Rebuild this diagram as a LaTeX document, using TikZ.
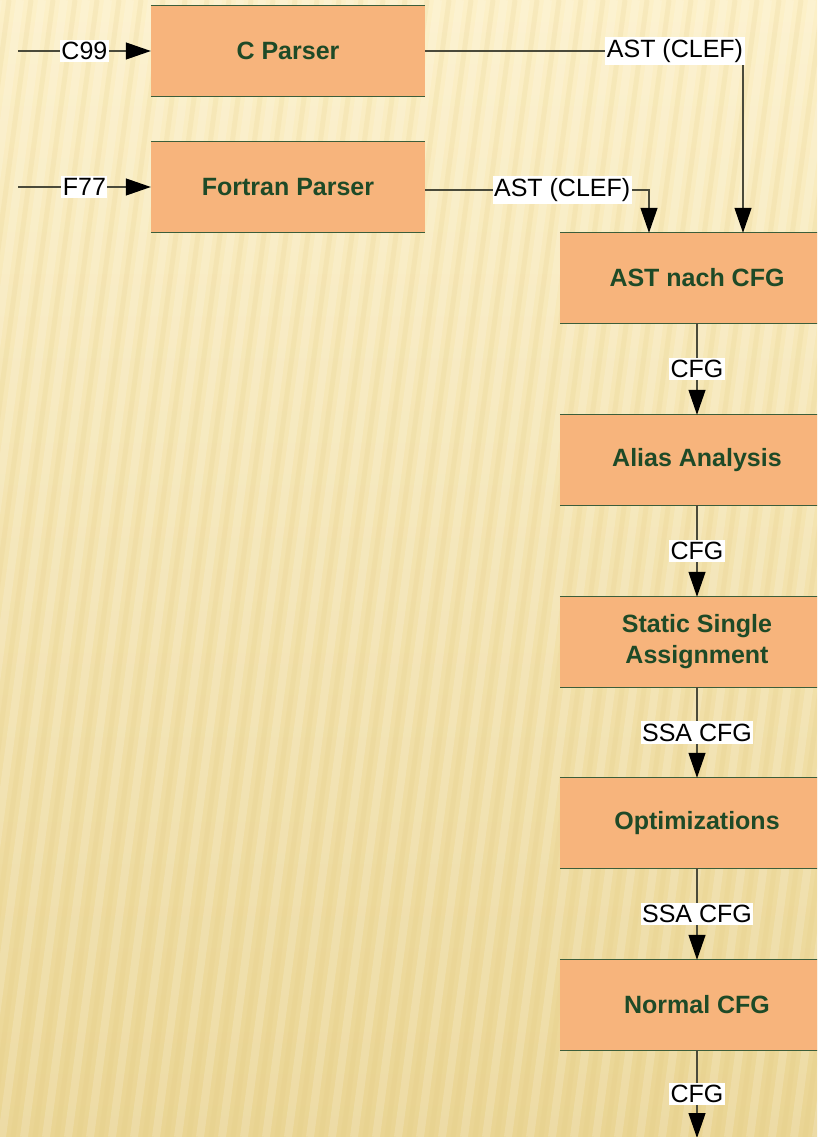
\documentclass[tikz,border=0pt]{standalone}
\usepackage{fontspec}
\setmainfont{Liberation Sans}
\usetikzlibrary{arrows.meta}
\definecolor{bgtop}{HTML}{FCF0C8}
\definecolor{bgbot}{HTML}{EAD594}
\definecolor{boxfill}{HTML}{F7B47C}
\definecolor{boxtext}{HTML}{1E4A27}
\definecolor{boxedge}{HTML}{3C5E3A}
\definecolor{wire}{HTML}{4A4A3A}
\definecolor{stripedark}{HTML}{E2C97E}
\begin{document}
\begin{tikzpicture}[x=1pt,y=-1pt,
  stage/.style={fill=boxfill, minimum width=274pt, minimum height=90pt, inner sep=0pt,
    text=boxtext, font=\fontsize{25}{31}\selectfont\bfseries, align=center},
  lbl/.style={fill=white, inner xsep=1.5pt, inner ysep=2.5pt, font=\fontsize{25}{27}\selectfont, text=black},
  wireline/.style={draw=wire, line width=1.2pt},
  arr/.style={wireline, -{Triangle[length=25pt,width=17pt,color=black]}},
  edgeline/.style={draw=boxedge, line width=1.2pt}]
\useasboundingbox (0,0) rectangle (817,1137);
\clip (0,0) rectangle (817,1137);
% background
\fill[top color=bgtop, bottom color=bgbot] (0,0) rectangle (817,1137);
\foreach \x in {-240,-218,...,900} {
  \draw[white, opacity=0.16, line width=8pt] (\x,1137) -- (\x+150,0);
  \draw[stripedark, opacity=0.16, line width=5pt] (\x+11,1137) -- (\x+161,0);
}
% stages
\node[stage] (cp) at (288,51) {C Parser};
\node[stage] (fp) at (288,187) {Fortran Parser};
\node[stage] (a2c) at (697,278) {AST nach CFG};
\node[stage] (alias) at (697,460) {Alias Analysis};
\node[stage] (ssa) at (697,642) {Static Single\\Assignment};
\node[stage] (opt) at (697,823) {Optimizations};
\node[stage] (ncfg) at (697,1005) {Normal CFG};
\foreach \n in {cp,fp,a2c,alias,ssa,opt,ncfg} {
  \draw[edgeline] (\n.north west) -- (\n.north east) (\n.south west) -- (\n.south east);
}
% inputs
\coordinate (cin) at (18,51);
\coordinate (fin) at (18,187);
\coordinate (cend) at (697,1138);
\draw[arr] (cin) -- node[lbl] {C99} (cp.west);
\draw[arr] (fin) -- node[lbl] {F77} (fp.west);
% parser outputs
\draw[arr] (cp.east) -| node[lbl, pos=0.393] {AST (CLEF)} ([xshift=46pt]a2c.north);
\draw[arr] ([yshift=-3pt]fp.east) -| node[lbl, pos=0.306] {AST (CLEF)} ([xshift=-48pt]a2c.north);
% chain
\draw[arr] (a2c.south) -- node[lbl] {CFG} (alias.north);
\draw[arr] (alias.south) -- node[lbl] {CFG} (ssa.north);
\draw[arr] (ssa.south) -- node[lbl] {SSA CFG} (opt.north);
\draw[arr] (opt.south) -- node[lbl] {SSA CFG} (ncfg.north);
\draw[arr] (ncfg.south) -- node[lbl] {CFG} (cend);
\end{tikzpicture}
\end{document}
